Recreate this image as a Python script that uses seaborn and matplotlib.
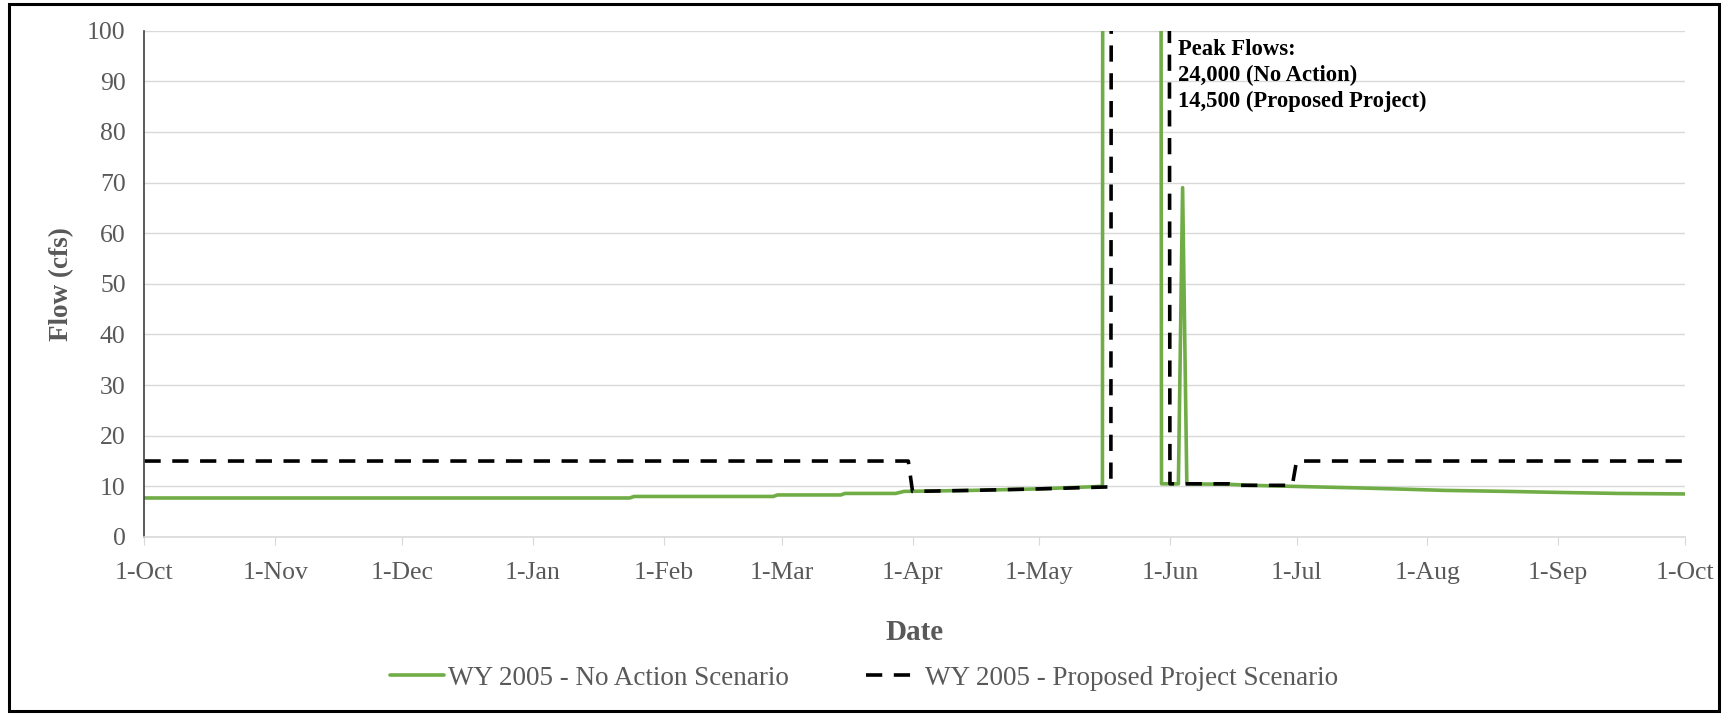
import pandas as pd
import matplotlib
matplotlib.use("Agg")
import matplotlib.pyplot as plt
from matplotlib.patches import Rectangle
import seaborn as sns

# WY 2005 daily flow, vertices (cfs)
no_action_dates = ["2004-10-01", "2005-01-24", "2005-01-25", "2005-02-27", "2005-02-28",
                   "2005-03-15", "2005-03-16", "2005-03-28", "2005-03-30", "2005-04-15",
                   "2005-05-01", "2005-05-16", "2005-05-17", "2005-05-23", "2005-05-29",
                   "2005-05-30", "2005-06-03", "2005-06-04", "2005-06-05", "2005-06-15",
                   "2005-06-20", "2005-07-05", "2005-07-15", "2005-07-24", "2005-08-05",
                   "2005-08-20", "2005-09-01", "2005-09-15", "2005-10-01"]
no_action_flow = [7.7, 7.7, 8.0, 8.0, 8.3,
                  8.3, 8.6, 8.6, 9.0, 9.2,
                  9.5, 10.0, 1500, 24000, 900,
                  10.5, 10.5, 69, 10.5, 10.4,
                  10.2, 9.9, 9.7, 9.5, 9.2,
                  9.0, 8.8, 8.6, 8.5]

project_dates = ["2004-10-01", "2005-03-31", "2005-04-01", "2005-04-15", "2005-05-01",
                 "2005-05-18", "2005-05-19", "2005-05-25", "2005-05-31", "2005-06-01",
                 "2005-06-15", "2005-06-17", "2005-06-30", "2005-07-01", "2005-10-01"]
project_flow = [15, 15, 9.0, 9.2, 9.5,
                9.9, 1200, 14500, 700, 10.5,
                10.5, 10.2, 10.2, 15, 15]

tick_dates = ["2004-10-01", "2004-11-01", "2004-12-01", "2005-01-01", "2005-02-01",
              "2005-03-01", "2005-04-01", "2005-05-01", "2005-06-01", "2005-07-01",
              "2005-08-01", "2005-09-01", "2005-10-01"]
tick_labels = ["1-Oct", "1-Nov", "1-Dec", "1-Jan", "1-Feb", "1-Mar", "1-Apr",
               "1-May", "1-Jun", "1-Jul", "1-Aug", "1-Sep", "1-Oct"]

na = pd.DataFrame({"Date": pd.to_datetime(no_action_dates), "Flow": no_action_flow})
pp = pd.DataFrame({"Date": pd.to_datetime(project_dates), "Flow": project_flow})

sns.set_style("white")
plt.rcParams["font.family"] = ["Liberation Serif", "DejaVu Serif"]

grey = "#595959"
fig, ax = plt.subplots(figsize=(17.28, 7.15), dpi=100)
fig.subplots_adjust(left=0.0836, right=0.975, top=0.957, bottom=0.249)

sns.lineplot(data=na, x="Date", y="Flow", ax=ax, color="#70AD47", linewidth=2.6,
             estimator=None, sort=False, label="WY 2005 - No Action Scenario")
sns.lineplot(data=pp, x="Date", y="Flow", ax=ax, color="black", linewidth=2.6,
             linestyle=(0, (4.5, 3.2)), estimator=None, sort=False,
             label="WY 2005 - Proposed Project Scenario")

ax.set_ylim(0, 100)
ax.set_yticks(range(0, 101, 10))
ax.set_xlim(pd.Timestamp(tick_dates[0]), pd.Timestamp(tick_dates[-1]))
ax.set_xticks(pd.to_datetime(tick_dates))
ax.set_xticklabels(tick_labels)

ax.yaxis.grid(True, color="#d9d9d9", linewidth=1)
ax.xaxis.grid(False)
ax.set_axisbelow(True)
for s in ["top", "right"]:
    ax.spines[s].set_visible(False)
ax.spines["left"].set_color("#404040")
ax.spines["left"].set_linewidth(1.2)
ax.spines["bottom"].set_color("#d9d9d9")
ax.spines["bottom"].set_linewidth(1.2)

ax.tick_params(axis="x", which="major", bottom=True, length=6, color="#d9d9d9",
               labelsize=18.5, labelcolor=grey, pad=12)
ax.tick_params(axis="y", left=False, labelsize=18.5, labelcolor=grey, pad=10)

ax.set_xlabel("Date", fontsize=21, fontweight="bold", color=grey, labelpad=25)
ax.set_ylabel("Flow (cfs)", fontsize=19.5, fontweight="bold", color=grey, labelpad=9)

ax.text(pd.Timestamp("2005-06-03"), 98.4,
        "Peak Flows:\n24,000 (No Action)\n14,500 (Proposed Project)",
        fontsize=16.3, fontweight="bold", color="black", va="top", ha="left",
        linespacing=1.3)

leg = ax.legend(loc="lower center", bbox_to_anchor=(0.5, 0.0), bbox_transform=fig.transFigure,
                ncol=2, frameon=False, fontsize=19.5, handlelength=2.0, columnspacing=2.85,
                handletextpad=0.15)
for t in leg.get_texts():
    t.set_color(grey)

fig.patches.append(Rectangle((0.005, 0.005), 0.99, 0.99, transform=fig.transFigure,
                             fill=False, edgecolor="black", linewidth=2.2))

fig.savefig("out.png", dpi=100)
